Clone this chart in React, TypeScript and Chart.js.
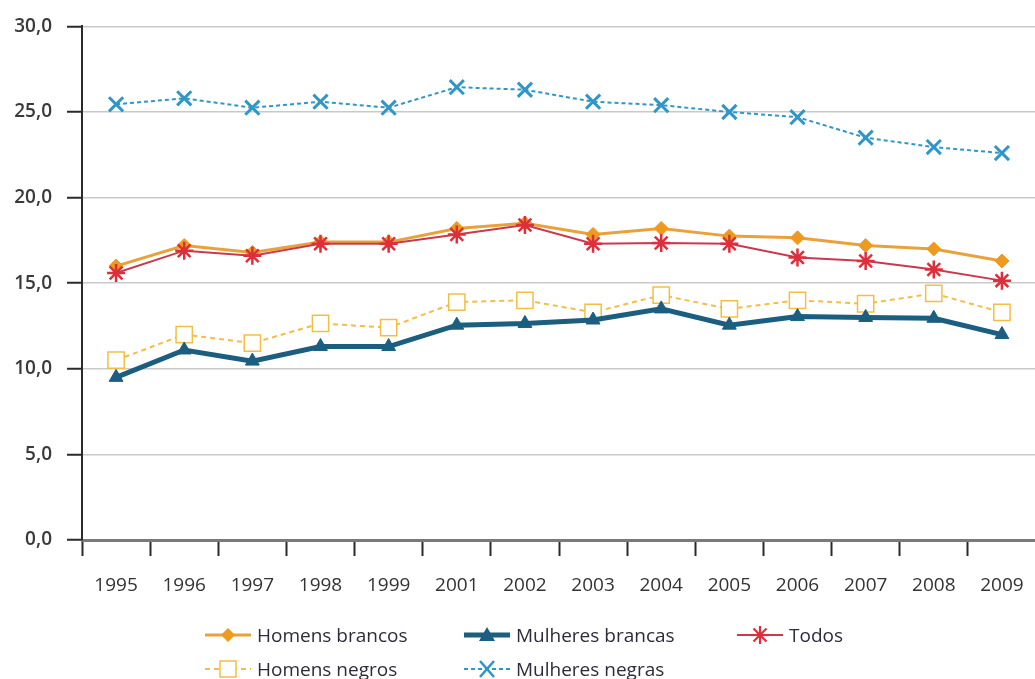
import React, { useEffect, useRef } from "react";
import { Chart, registerables } from "chart.js";

Chart.register(...registerables);

const years = ["1995", "1996", "1997", "1998", "1999", "2001", "2002", "2003", "2004", "2005", "2006", "2007", "2008", "2009"];
const homensBrancos = [16.0, 17.2, 16.8, 17.4, 17.4, 18.2, 18.5, 17.85, 18.2, 17.75, 17.65, 17.2, 17.0, 16.3];
const mulheresBrancas = [9.5, 11.1, 10.45, 11.3, 11.3, 12.55, 12.65, 12.85, 13.5, 12.55, 13.05, 13.0, 12.95, 12.0];
const todos = [15.6, 16.9, 16.6, 17.3, 17.3, 17.85, 18.4, 17.3, 17.35, 17.3, 16.5, 16.3, 15.8, 15.15];
const homensNegros = [10.5, 12.0, 11.5, 12.65, 12.4, 13.9, 14.0, 13.3, 14.3, 13.5, 14.0, 13.8, 14.4, 13.3];
const mulheresNegras = [25.45, 25.8, 25.25, 25.6, 25.25, 26.45, 26.3, 25.6, 25.4, 25.0, 24.7, 23.5, 22.95, 22.6];
const yTicks = [0, 5, 10, 15, 20, 25, 30];

const FONT = "'Open Sans', 'Noto Sans', sans-serif";

const C_HB = "#E9A23B";
const C_MB = "#1B5E80";
const C_TD = "#C83A4E";
const C_TD_M = "#DD2E3C";
const C_HN = "#F3BE45";
const C_MN = "#2E97C8";

function Sym({ kind }: { kind: string }) {
  const w = 46, h = 22, cy = 11, cx = 23;
  let line: any = null;
  let mark: any = null;
  if (kind === "hb") {
    line = <line x1={0} y1={cy} x2={w} y2={cy} stroke={C_HB} strokeWidth={3} />;
    mark = <polygon points={`${cx},${cy - 7} ${cx + 7},${cy} ${cx},${cy + 7} ${cx - 7},${cy}`} fill="#EE9A1E" />;
  } else if (kind === "mb") {
    line = <line x1={0} y1={cy} x2={w} y2={cy} stroke={C_MB} strokeWidth={5} />;
    mark = <polygon points={`${cx},${cy - 8} ${cx + 8},${cy + 6} ${cx - 8},${cy + 6}`} fill={C_MB} />;
  } else if (kind === "td") {
    line = <line x1={0} y1={cy} x2={w} y2={cy} stroke={C_TD} strokeWidth={2} />;
    mark = (
      <g stroke={C_TD_M} strokeWidth={2.2}>
        <line x1={cx - 9} y1={cy} x2={cx + 9} y2={cy} />
        <line x1={cx} y1={cy - 9} x2={cx} y2={cy + 9} />
        <line x1={cx - 6.5} y1={cy - 6.5} x2={cx + 6.5} y2={cy + 6.5} />
        <line x1={cx - 6.5} y1={cy + 6.5} x2={cx + 6.5} y2={cy - 6.5} />
      </g>
    );
  } else if (kind === "hn") {
    line = <line x1={0} y1={cy} x2={w} y2={cy} stroke={C_HN} strokeWidth={2} strokeDasharray="5 4" />;
    mark = <rect x={cx - 8} y={cy - 8} width={16} height={16} fill="#fff" stroke={C_HN} strokeWidth={1.5} />;
  } else {
    line = <line x1={0} y1={cy} x2={w} y2={cy} stroke={C_MN} strokeWidth={2} strokeDasharray="4 3" />;
    mark = (
      <g stroke={C_MN} strokeWidth={2.5}>
        <line x1={cx - 7} y1={cy - 8} x2={cx + 7} y2={cy + 8} />
        <line x1={cx - 7} y1={cy + 8} x2={cx + 7} y2={cy - 8} />
      </g>
    );
  }
  return (
    <svg width={w} height={h} style={{ display: "block" }}>
      {line}
      {mark}
    </svg>
  );
}

const legendItems = [
  { kind: "hb", label: "Homens brancos", x: 205, y: 635 },
  { kind: "mb", label: "Mulheres brancas", x: 464, y: 635 },
  { kind: "td", label: "Todos", x: 737, y: 635 },
  { kind: "hn", label: "Homens negros", x: 205, y: 669 },
  { kind: "mn", label: "Mulheres negras", x: 464, y: 669 },
];

const CANVAS_W = 1049;

export default function App() {
  const ref = useRef<HTMLCanvasElement | null>(null);

  useEffect(() => {
    if (!ref.current) return;
    const chart = new Chart(ref.current, {
      type: "line",
      data: {
        labels: years,
        datasets: [
          {
            label: "Todos",
            data: todos,
            borderColor: C_TD,
            borderWidth: 2,
            pointStyle: "star",
            pointRadius: 9,
            pointBorderColor: C_TD_M,
            pointBorderWidth: 2.5,
            pointBackgroundColor: C_TD_M,
            order: 0,
          },
          {
            label: "Homens brancos",
            data: homensBrancos,
            borderColor: C_HB,
            borderWidth: 3,
            pointStyle: "rectRot",
            pointRadius: 7,
            pointBorderColor: "#EE9A1E",
            pointBackgroundColor: "#EE9A1E",
            pointBorderWidth: 1,
            order: 1,
          },
          {
            label: "Mulheres negras",
            data: mulheresNegras,
            borderColor: C_MN,
            borderWidth: 2,
            borderDash: [4, 3],
            pointStyle: "crossRot",
            pointRadius: 10,
            pointBorderColor: C_MN,
            pointBorderWidth: 3,
            order: 2,
          },
          {
            label: "Mulheres brancas",
            data: mulheresBrancas,
            borderColor: C_MB,
            borderWidth: 5,
            pointStyle: "triangle",
            pointRadius: 8,
            pointBorderColor: C_MB,
            pointBackgroundColor: C_MB,
            pointBorderWidth: 1,
            order: 3,
          },
          {
            label: "Homens negros",
            data: homensNegros,
            borderColor: C_HN,
            borderWidth: 2,
            borderDash: [5, 4],
            pointStyle: "rect",
            pointRadius: 11.5,
            pointBorderColor: C_HN,
            pointBackgroundColor: "rgba(255,255,255,0.95)",
            pointBorderWidth: 1.5,
            order: 4,
          },
        ],
      },
      options: {
        animation: false,
        responsive: false,
        maintainAspectRatio: false,
        layout: { padding: { top: 21, right: 0, bottom: 0, left: 0 } },
        plugins: {
          legend: { display: false },
          tooltip: { enabled: false },
        },
        scales: {
          x: {
            type: "category",
            offset: true,
            grid: {
              offset: true,
              drawOnChartArea: false,
              drawTicks: true,
              tickLength: 16,
              tickColor: "#2a2a2a",
              tickWidth: 2,
            },
            border: { display: true, color: "#7a7a7a", width: 3 },
            ticks: {
              color: "#333",
              font: { family: FONT, size: 19 },
              padding: 18,
              maxRotation: 0,
              autoSkip: false,
            },
            afterFit: (s: any) => {
              s.height = 139;
              s.paddingLeft = 0;
              s.paddingRight = 0;
            },
          },
          y: {
            min: 0,
            max: 30,
            afterBuildTicks: (s: any) => {
              s.ticks = yTicks.map((v) => ({ value: v }));
            },
            grid: {
              color: "#c9c9c9",
              lineWidth: 1.5,
              drawTicks: true,
              tickLength: 15,
              tickColor: "#2a2a2a",
              tickWidth: 2,
            },
            border: { display: true, color: "#2a2a2a", width: 2 },
            ticks: {
              color: "#3a3a3a",
              font: { family: FONT, size: 19, weight: 600 },
              padding: 15,
              callback: (v: any) => Number(v).toFixed(1).replace(".", ","),
            },
            afterFit: (s: any) => {
              s.width = 82;
            },
          },
        },
      },
    });
    return () => chart.destroy();
  }, []);

  return (
    <div style={{ position: "absolute", left: 0, top: 0, width: 1035, height: 679, background: "#fff", overflow: "hidden" }}>
      <canvas ref={ref} width={CANVAS_W} height={679} style={{ display: "block", width: CANVAS_W, height: 679 }} />
      {legendItems.map((it) => (
        <div
          key={it.label}
          style={{
            position: "absolute",
            left: it.x,
            top: it.y - 14,
            height: 28,
            display: "flex",
            alignItems: "center",
            gap: 6,
            fontFamily: FONT,
            fontSize: 19,
            color: "#2c2c3c",
            whiteSpace: "nowrap",
          }}
        >
          <Sym kind={it.kind} />
          <span>{it.label}</span>
        </div>
      ))}
    </div>
  );
}
